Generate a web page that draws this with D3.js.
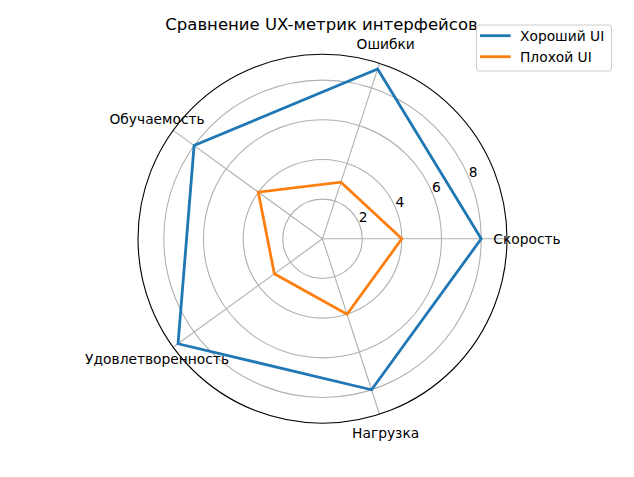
<!DOCTYPE html>
<html>
<head>
<meta charset="utf-8">
<script src="https://cdn.jsdelivr.net/npm/d3@7"></script>
<style>
  body { margin: 0; background: #fff; }
  text { font-family: "DejaVu Sans", sans-serif; fill: #000; }
</style>
</head>
<body>
<div id="chart"></div>
<script>
// values
const categories = ["Скорость", "Ошибки", "Обучаемость", "Удовлетворенность", "Нагрузка"];
const goodUI = [8, 9, 8, 9, 8];
const badUI = [4, 3, 4, 3, 4];
const rTicks = [2, 4, 6, 8];
const seriesNames = ["Хороший UI", "Плохой UI"];
const seriesColors = ["#1f77b4", "#ff7f0e"];

const width = 634, height = 477;
const cx = 322.5, cy = 238.8, R = 184.5;

const svg = d3.select('#chart').append('svg')
    .attr('width', width)
    .attr('height', height);

const r = d3.scaleLinear().domain([0, 9.3]).range([0, R]);
// d3 radial angle: 0 at top, clockwise; categories go counter-clockwise from east
const angle = i => Math.PI / 2 - i * 2 * Math.PI / categories.length;

const g = svg.append('g').attr('transform', `translate(${cx},${cy})`);

// grid circles
g.selectAll('.ring')
    .data(rTicks)
    .enter().append('circle')
    .attr('r', d => r(d))
    .attr('fill', 'none')
    .attr('stroke', '#b0b0b0')
    .attr('stroke-width', 1.1);

// spokes
g.selectAll('.spoke')
    .data(categories)
    .enter().append('line')
    .attr('x1', 0).attr('y1', 0)
    .attr('x2', (d, i) => R * Math.sin(angle(i)))
    .attr('y2', (d, i) => -R * Math.cos(angle(i)))
    .attr('stroke', '#b0b0b0')
    .attr('stroke-width', 1.1);

// outer frame
g.append('circle')
    .attr('r', R)
    .attr('fill', 'none')
    .attr('stroke', '#000')
    .attr('stroke-width', 1.1);

// radial tick labels at 22.5 degrees
const tickAng = Math.PI / 2 - 22.5 * Math.PI / 180;
g.selectAll('.rlabel')
    .data(rTicks)
    .enter().append('text')
    .attr('x', d => r(d) * Math.sin(tickAng) + 4)
    .attr('y', d => -r(d) * Math.cos(tickAng) - 6.5)
    .attr('text-anchor', 'middle')
    .attr('dominant-baseline', 'central')
    .style('font-size', '13.8px')
    .text(d => d);

// series
const line = d3.lineRadial()
    .angle((d, i) => angle(i))
    .radius(d => r(d))
    .curve(d3.curveLinearClosed);

[goodUI, badUI].forEach((vals, k) => {
    g.append('path')
        .attr('d', line(vals))
        .attr('fill', 'none')
        .attr('stroke', seriesColors[k])
        .attr('stroke-width', 2.8)
        .attr('stroke-linejoin', 'miter');
});

// category labels
g.selectAll('.clabel')
    .data(categories)
    .enter().append('text')
    .attr('x', (d, i) => (R + 20) * Math.sin(angle(i)))
    .attr('y', (d, i) => -(R + 20) * Math.cos(angle(i)))
    .attr('text-anchor', 'middle')
    .attr('dominant-baseline', 'central')
    .style('font-size', '13.8px')
    .text(d => d);

// title
svg.append('text')
    .attr('x', 321.5)
    .attr('y', 30)
    .attr('text-anchor', 'middle')
    .style('font-size', '16.5px')
    .text('Сравнение UX-метрик интерфейсов');

// legend
const legend = svg.append('g');
legend.append('rect')
    .attr('x', 476.5).attr('y', 25)
    .attr('width', 135).attr('height', 46)
    .attr('rx', 3)
    .attr('fill', '#fff')
    .attr('fill-opacity', 0.8)
    .attr('stroke', '#cccccc')
    .attr('stroke-width', 1);

seriesNames.forEach((name, k) => {
    const y = 35.7 + k * 21;
    legend.append('line')
        .attr('x1', 480).attr('x2', 510.7)
        .attr('y1', y).attr('y2', y)
        .attr('stroke', seriesColors[k])
        .attr('stroke-width', 2.8);
    legend.append('text')
        .attr('x', 520)
        .attr('y', y)
        .attr('dominant-baseline', 'central')
        .style('font-size', '13.8px')
        .text(name);
});
</script>
</body>
</html>
